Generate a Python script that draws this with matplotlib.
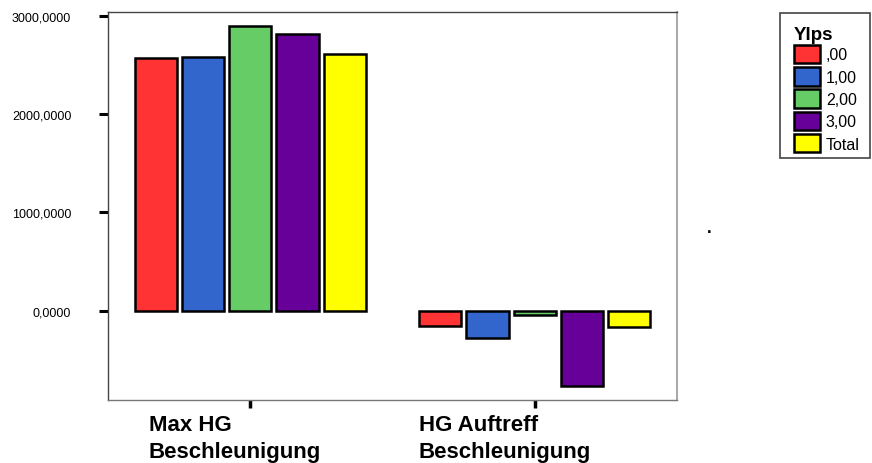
import matplotlib
matplotlib.use("Agg")
import matplotlib.pyplot as plt
from matplotlib.patches import Patch, Rectangle
import numpy as np

plt.rcParams['font.family'] = ['Liberation Sans', 'DejaVu Sans']

categories = ["Max HG\nBeschleunigung", "HG Auftreff\nBeschleunigung"]
series_names = [",00", "1,00", "2,00", "3,00", "Total"]
series_colors = ["#FF3333", "#3366CC", "#66CC66", "#660099", "#FFFF00"]
val_00 = [2570, -152]
val_10 = [2580, -272]
val_20 = [2893, -45]
val_30 = [2812, -760]
val_total = [2610, -160]
values = [val_00, val_10, val_20, val_30, val_total]
yticks = [0, 1000, 2000, 3000]
ytick_labels = ["0,0000", "1000,0000", "2000,0000", "3000,0000"]

fig = plt.figure(figsize=(8.72, 4.64), dpi=100)
ax = fig.add_axes([108/872, 1-401/464, 569/872, 388/464])

x = np.arange(len(categories))
step = 0.166
width = 0.148
for i, (vals, col) in enumerate(zip(values, series_colors)):
    ax.bar(x + (i - 2) * step, vals, width=width, color=col,
           edgecolor='black', linewidth=1.8, zorder=3)

ax.set_xlim(-0.5, 1.5)
ax.set_ylim(-904, 3036)
ax.set_yticks(yticks)
ax.set_yticklabels(ytick_labels, fontsize=9)
ax.set_xticks(x)
ax.set_xticklabels(["", ""])
ax.tick_params(axis='y', direction='out', length=6.5, width=2.2, pad=20, color='black')
ax.tick_params(axis='x', direction='out', length=6, width=2.5, color='black')

for s in ['left', 'top']:
    ax.spines[s].set_color('#444444')
    ax.spines[s].set_linewidth(1.0)
ax.spines['right'].set_color('#aaaaaa')
ax.spines['right'].set_linewidth(1.5)
ax.spines['bottom'].set_color('#777777')
ax.spines['bottom'].set_linewidth(1.0)

# category labels (left aligned under ticks)
offsets = [-0.356, -0.408]
for xi, off, lab in zip(x, offsets, categories):
    ax.text(xi + off, -0.035, lab, transform=ax.get_xaxis_transform(),
            ha='left', va='top', fontsize=16, fontweight='bold',
            linespacing=1.38)

fig.text(709/872, 1-229/464, ".", fontsize=12, fontweight='bold', ha='center', va='center')

# legend frame
fig.add_artist(Rectangle((780/872, 1-159/464), 90/872, 145/464,
                         transform=fig.transFigure, fill=False,
                         edgecolor='#444444', linewidth=1.2))

handles = [Patch(facecolor=c, edgecolor='black', linewidth=1.8) for c in series_colors]
leg = fig.legend(handles, series_names, loc='upper left',
                 bbox_to_anchor=(794/872, 1-27.5/464), fontsize=11.5,
                 title="Ylps", title_fontproperties={'weight': 'bold', 'size': 13.5},
                 frameon=False,
                 handlelength=1.6, handleheight=1.4, labelspacing=0.24,
                 handletextpad=0.4, borderpad=0, borderaxespad=0)
leg._legend_box.align = "left"
leg._legend_box.sep = 1

fig.savefig("out.png", dpi=100)
